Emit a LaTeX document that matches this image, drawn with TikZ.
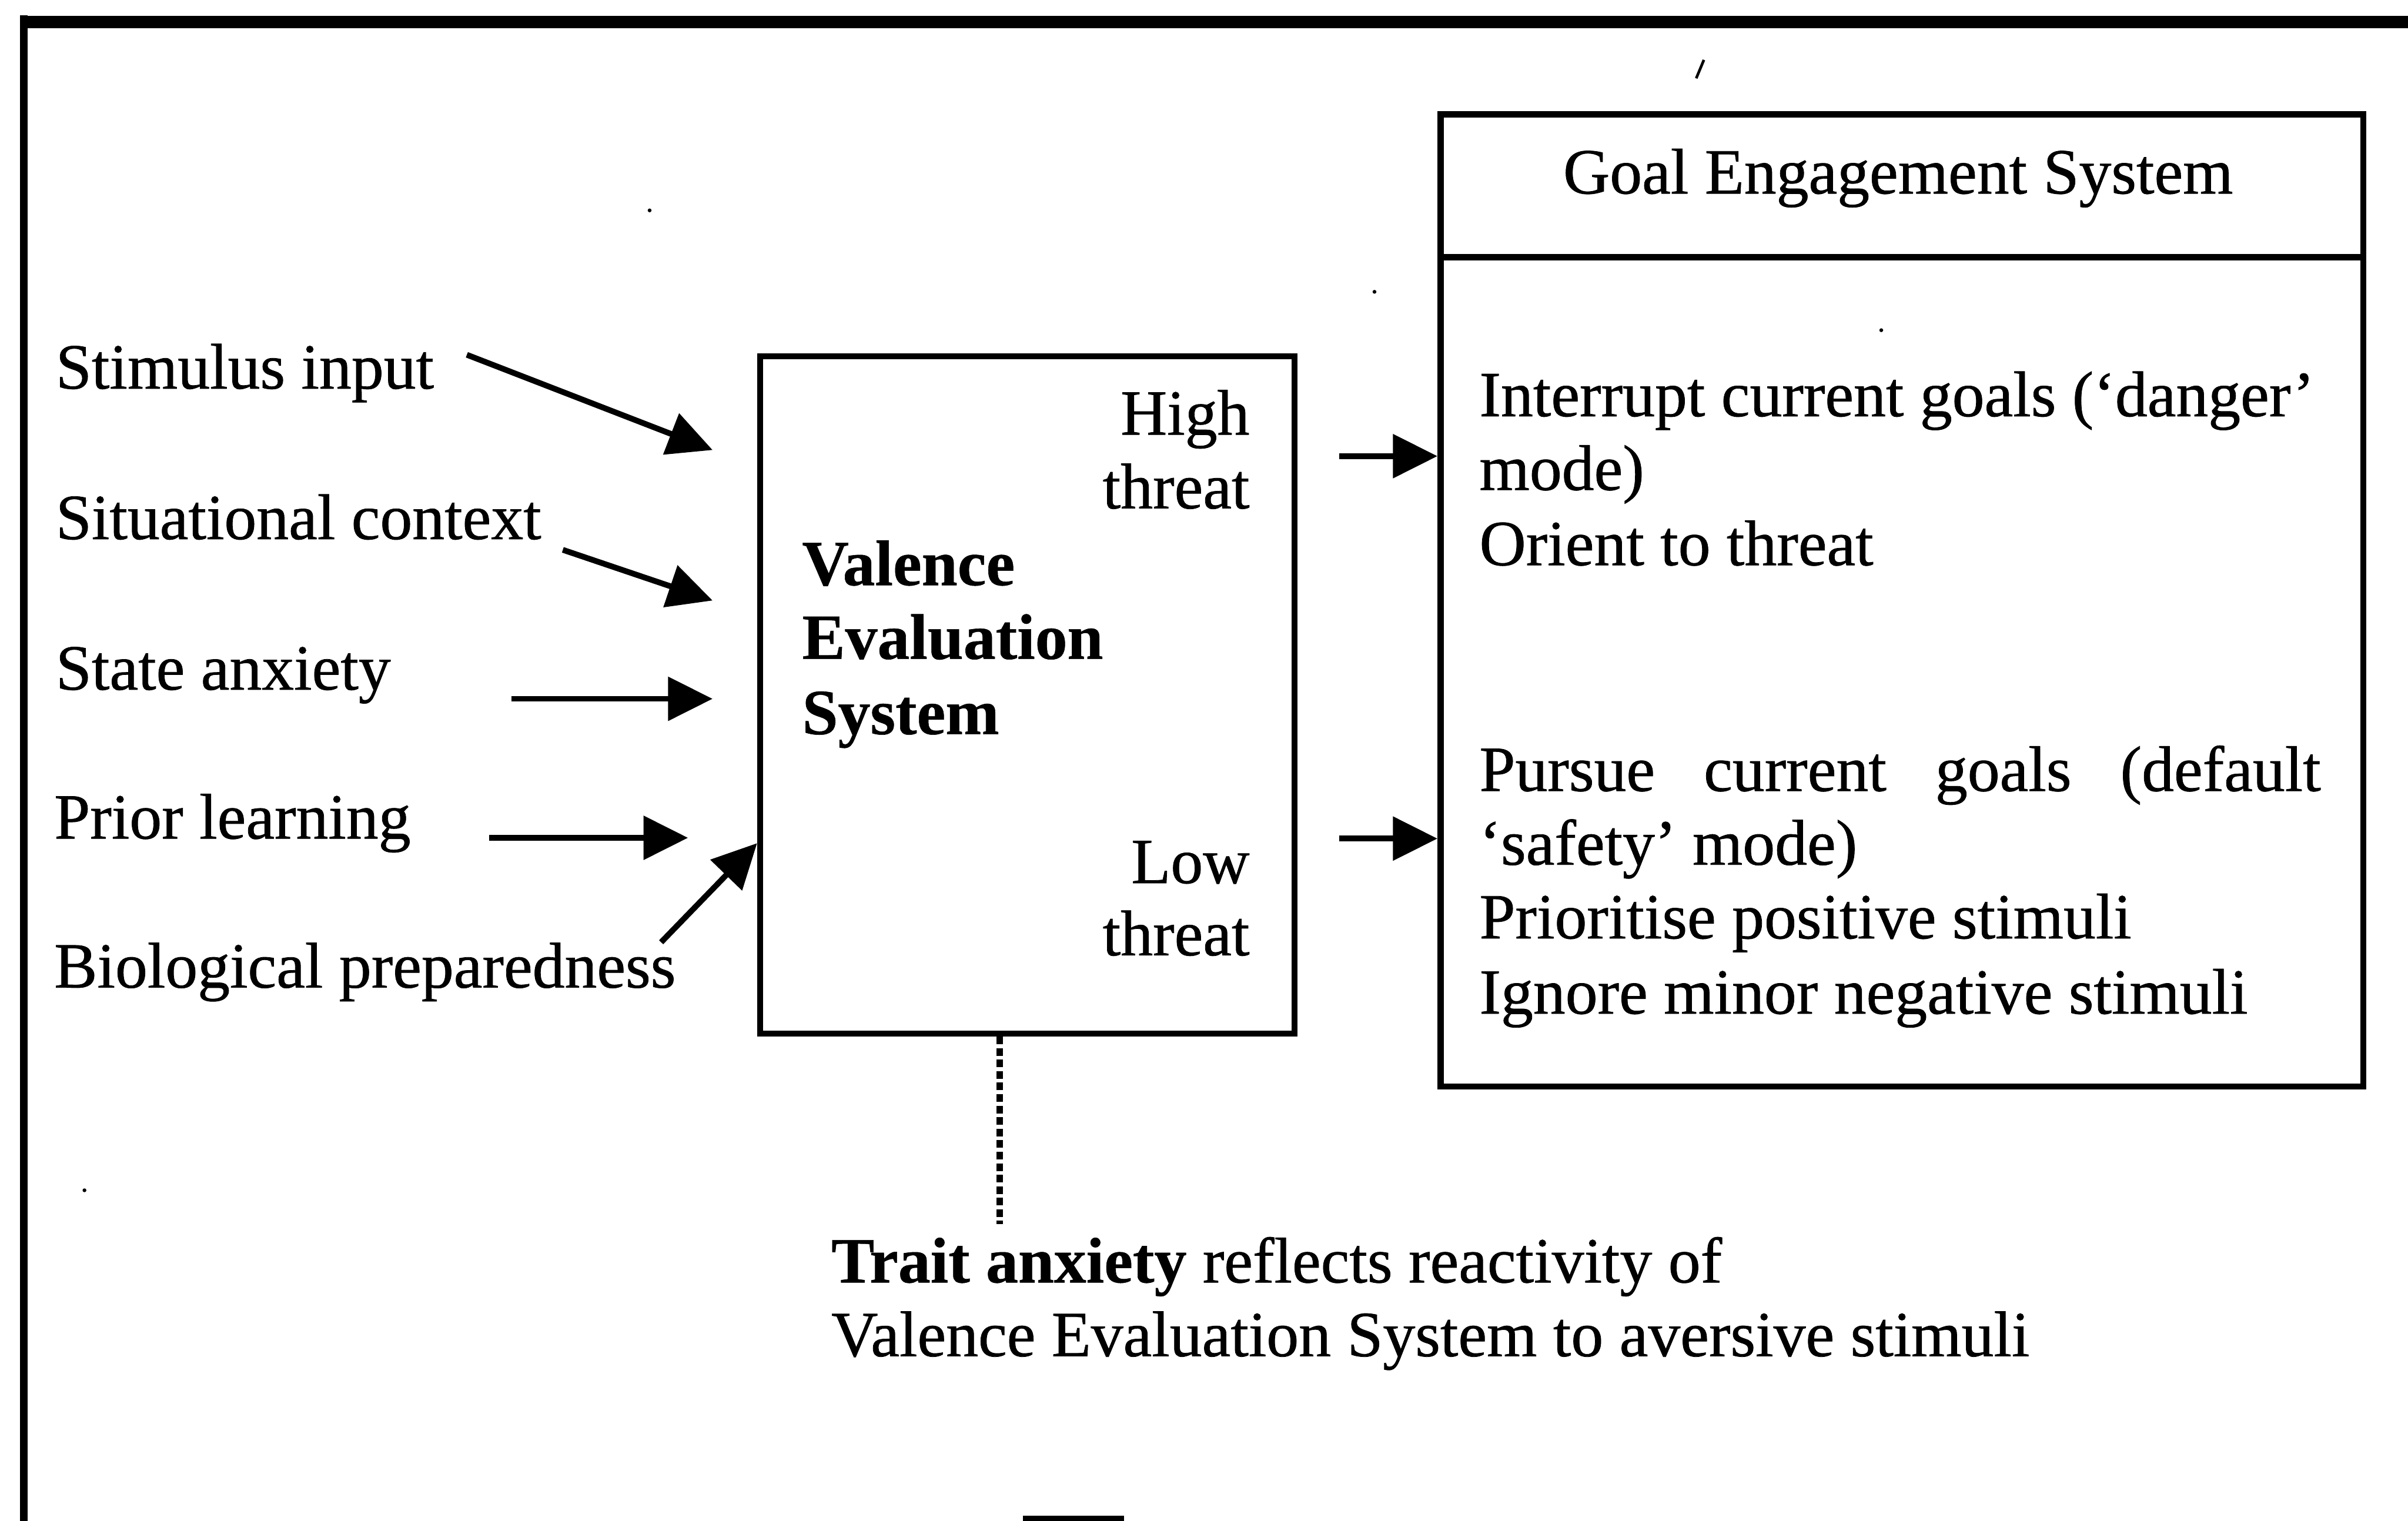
\documentclass[tikz,border=0pt]{standalone}
\usepackage{fontspec}
\setmainfont{Liberation Serif}[UprightFeatures={FakeBold=0.7}, BoldFeatures={FakeBold=0.5}]
\usetikzlibrary{arrows.meta}

\begin{document}
\begin{tikzpicture}[x=0.02cm,y=-0.02cm,
  txt/.style={inner sep=0pt, anchor=base west, font=\fontsize{23.9pt}{27.6pt}\selectfont},
  txtr/.style={txt, anchor=base east},
  boxline/.style={draw, line width=0.08cm, inner sep=0pt},
  arr/.style={line width=0.075cm, -{Triangle[length=0.58cm,width=0.56cm]}},
  dotlink/.style={line width=0.09cm, dash pattern=on 0.1cm off 0.05cm},
  frameline/.style={line width=#1}
]
\useasboundingbox (0,0) rectangle (1568,990);

% outer frame (top and left edges)
\draw[frameline=0.16cm] (13,14.5) -- (1600,14.5);
\draw[frameline=0.1cm] (15.5,10) -- (15.5,1010);
\fill (666,987) rectangle (732,995);

% small marks
\draw[line width=0.035cm] (1104.5,51) -- (1109.5,39);
\fill (423,137) circle[radius=0.025cm];
\fill (895,190) circle[radius=0.025cm];
\fill (1225,215) circle[radius=0.025cm];
\fill (55,775) circle[radius=0.025cm];

% input labels
\node[txt] (stim) at (36,253) {Stimulus input};
\node[txt] (situ) at (36,351) {Situational context};
\node[txt] (state) at (36,449) {State anxiety};
\node[txt] (prior) at (35,546) {Prior learning};
\node[txt] (bio) at (35,643) {Biological preparedness};

% valence evaluation system
\node[boxline, anchor=north west, minimum width=6.96cm, minimum height=8.82cm] (veval) at (493,230) {};
\node[txtr] (high1) at (814,283) {High};
\node[txtr] (high2) at (814,331) {threat};
\node[txt] (ves1) at (522,381) {\bfseries Valence};
\node[txt] (ves2) at (522,429) {\bfseries Evaluation};
\node[txt] (ves3) at (522,478) {\bfseries System};
\node[txtr] (low1) at (814,575) {Low};
\node[txtr] (low2) at (814,622) {threat};

% goal engagement system
\node[boxline, anchor=north west, minimum width=12.02cm, minimum height=12.66cm] (goal) at (936,72.5) {};
\draw[line width=0.08cm] (goal.west |- 0,167.5) -- (goal.east |- 0,167.5);
\node[txt, anchor=base] (gtitle) at (1236,126) {Goal Engagement System};
\node[txt] (g1) at (963,271) {Interrupt current goals (‘danger’};
\node[txt] (g2) at (963,319) {mode)};
\node[txt] (g3) at (963,368) {Orient to threat};
\node[txt] (g4) at (963,515) {\hbox to 10.96cm{Pursue\hfill current\hfill goals\hfill (default}};
\node[txt] (g5) at (963,563) {‘safety’ mode)};
\node[txt] (g6) at (963,611) {Prioritise positive stimuli};
\node[txt] (g7) at (963,660) {Ignore minor negative stimuli};

% trait anxiety note
\node[txt] (trait1) at (541,835) {\textbf{Trait anxiety} reflects reactivity of};
\node[txt] (trait2) at (541,883) {Valence Evaluation System to aversive stimuli};

% input arrows
\coordinate (a1s) at (304,231);   \coordinate (a1e) at (464,293);
\coordinate (a2s) at (366.5,358); \coordinate (a2e) at (464,391);
\coordinate (a3s) at (333,455);   \coordinate (a3e) at (464,455);
\coordinate (a4s) at (318.5,545.5); \coordinate (a4e) at (448,545.5);
\coordinate (a5s) at (430.5,613.5);
\draw[arr] (a1s) -- (a1e);
\draw[arr] (a2s) -- (a2e);
\draw[arr] (a3s) -- (a3e);
\draw[arr] (a4s) -- (a4e);
\draw[arr] (a5s) -- (veval.west |- 0,549);

% output arrows
\coordinate (o1s) at (872,297);
\coordinate (o2s) at (872,546);
\draw[arr] (o1s) -- (goal.west |- o1s);
\draw[arr] (o2s) -- (goal.west |- o2s);

% trait anxiety link
\coordinate (dotend) at (651,797);
\draw[dotlink] (veval.south -| dotend) -- (dotend);
\end{tikzpicture}
\end{document}
